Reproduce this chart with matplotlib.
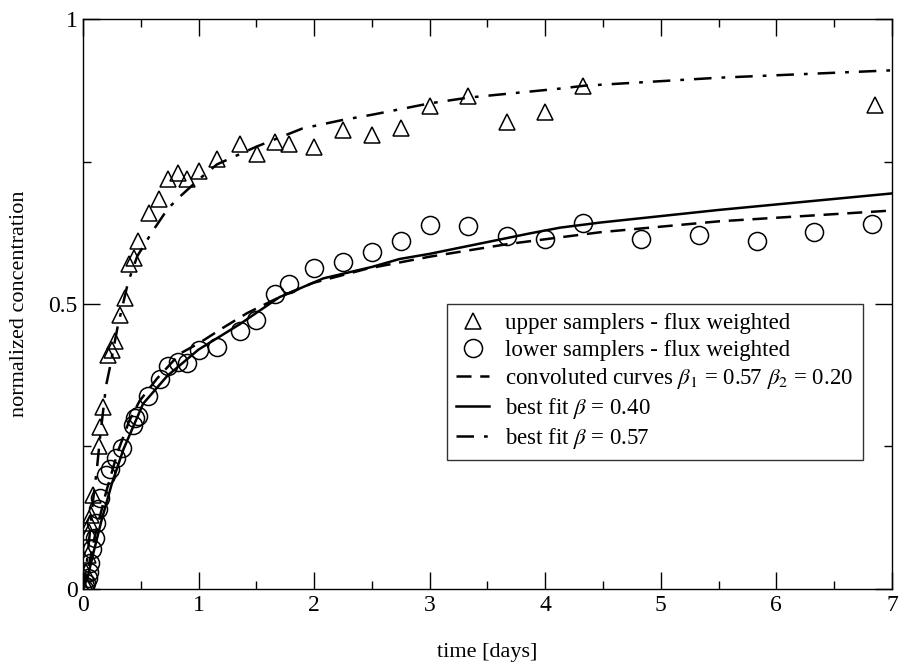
import matplotlib
matplotlib.use("Agg")
from matplotlib import pyplot as plt

plt.rcParams['font.family'] = ['Liberation Serif', 'DejaVu Serif']
plt.rcParams['mathtext.fontset'] = 'stix'

# upper samplers, flux weighted
upper_t = [0.01, 0.02, 0.03, 0.04, 0.05, 0.06, 0.07, 0.09, 0.14, 0.15, 0.17,
           0.22, 0.25, 0.28, 0.32, 0.36, 0.40, 0.44, 0.48, 0.57, 0.66, 0.74,
           0.82, 0.90, 1.00, 1.16, 1.36, 1.51, 1.66, 1.78, 2.00, 2.25, 2.50,
           2.75, 3.00, 3.33, 3.67, 4.00, 4.33, 6.85]
upper_c = [0.00, 0.01, 0.03, 0.06, 0.10, 0.115, 0.13, 0.165, 0.25, 0.285, 0.32,
           0.41, 0.42, 0.435, 0.48, 0.51, 0.57, 0.58, 0.61, 0.66, 0.685, 0.72,
           0.73, 0.72, 0.733, 0.755, 0.781, 0.764, 0.785, 0.780, 0.776, 0.806,
           0.797, 0.808, 0.848, 0.865, 0.820, 0.836, 0.883, 0.850]

# lower samplers, flux weighted
lower_t = [0.01, 0.02, 0.03, 0.04, 0.05, 0.06, 0.08, 0.10, 0.11, 0.13, 0.15,
           0.20, 0.23, 0.29, 0.34, 0.43, 0.45, 0.48, 0.56, 0.67, 0.74, 0.82,
           0.90, 1.00, 1.16, 1.36, 1.50, 1.66, 1.78, 2.00, 2.25, 2.50, 2.75,
           3.00, 3.33, 3.67, 4.00, 4.33, 4.83, 5.33, 5.83, 6.33, 6.83]
lower_c = [0.00, 0.005, 0.01, 0.02, 0.03, 0.045, 0.07, 0.09, 0.115, 0.14, 0.16,
           0.20, 0.21, 0.23, 0.247, 0.287, 0.30, 0.303, 0.339, 0.369, 0.392,
           0.399, 0.397, 0.420, 0.425, 0.453, 0.472, 0.517, 0.535, 0.563, 0.573,
           0.591, 0.610, 0.638, 0.636, 0.620, 0.614, 0.642, 0.614, 0.621, 0.610,
           0.626, 0.640]

# convoluted curves, beta1 = 0.57, beta2 = 0.20
conv_t = [0.0, 0.05, 0.10, 0.20, 0.30, 0.40, 0.49, 0.64, 0.84, 1.01, 1.21,
          1.42, 1.70, 1.99, 2.46, 3.00, 3.67, 4.13, 4.48, 5.50, 7.00]
conv_c = [0.0, 0.04, 0.09, 0.17, 0.24, 0.295, 0.33, 0.369, 0.413, 0.432, 0.458,
          0.484, 0.512, 0.537, 0.562, 0.583, 0.605, 0.617, 0.626, 0.645, 0.664]

# best fit, beta = 0.40
fit40_t = [0.0, 0.04, 0.08, 0.16, 0.25, 0.35, 0.52, 0.73, 1.00, 1.36, 1.70,
           2.08, 2.50, 2.74, 3.00, 3.87, 4.13, 4.48, 5.50, 7.00]
fit40_c = [0.0, 0.02, 0.055, 0.12, 0.185, 0.245, 0.325, 0.374, 0.420, 0.465,
           0.512, 0.545, 0.565, 0.579, 0.588, 0.624, 0.634, 0.643, 0.665, 0.694]

# best fit, beta = 0.57
fit57_t = [0.0, 0.03, 0.06, 0.09, 0.12, 0.15, 0.20, 0.23, 0.30, 0.39, 0.47,
           0.60, 0.73, 0.82, 1.01, 1.16, 1.50, 1.90, 2.25, 2.50, 3.00, 3.33,
           4.13, 4.34, 5.50, 7.00]
fit57_c = [0.0, 0.04, 0.10, 0.16, 0.21, 0.27, 0.357, 0.386, 0.46, 0.538, 0.584,
           0.627, 0.666, 0.685, 0.72, 0.745, 0.776, 0.808, 0.823, 0.832, 0.852,
           0.862, 0.878, 0.883, 0.897, 0.910]

fig = plt.figure(figsize=(9, 6.65), dpi=100)
ax = fig.add_axes([0.0922, 0.1143, 0.8988, 0.8571])

ax.plot(upper_t, upper_c, linestyle='none', marker='^', markersize=12,
        markerfacecolor='none', markeredgecolor='black', markeredgewidth=1.1,
        label='upper samplers - flux weighted')
ax.plot(lower_t, lower_c, linestyle='none', marker='o', markersize=13,
        markerfacecolor='none', markeredgecolor='black', markeredgewidth=1.1,
        label='lower samplers - flux weighted')
ax.plot(conv_t, conv_c, color='black', linewidth=1.8, dashes=(6, 3.5),
        label=r'convoluted curves $\beta_1$ = 0.57 $\beta_2$ = 0.20')
ax.plot(fit40_t, fit40_c, color='black', linewidth=1.8,
        label=r'best fit $\beta$ = 0.40')
ax.plot(fit57_t, fit57_c, color='black', linewidth=1.8, dashes=(7, 4, 1.5, 4),
        label=r'best fit $\beta$ = 0.57')

ax.set_xlim(0, 7)
ax.set_ylim(0, 1)
ax.set_xticks(range(8))
ax.set_xticks([0.5 + i for i in range(7)], minor=True)
ax.set_yticks([0, 0.5, 1])
ax.set_yticklabels(['0', '0.5', '1'])
ax.set_yticks([0.25, 0.75], minor=True)
ax.tick_params(which='both', direction='in', top=True, right=True,
               labelsize=17, width=1)
ax.tick_params(which='major', length=12, pad=4)
ax.tick_params(which='minor', length=6)
for s in ax.spines.values():
    s.set_linewidth(1)

ax.set_xlabel('time [days]', fontsize=16, labelpad=20)
ax.set_ylabel('normalized concentration', fontsize=16, labelpad=14)

leg = ax.legend(loc='upper left', bbox_to_anchor=(0.45, 0.4995), fontsize=16.5,
                frameon=True, fancybox=False, edgecolor='black',
                handlelength=1.45, handletextpad=0.7, labelspacing=0.22,
                borderpad=0.4, borderaxespad=0)
leg.get_frame().set_linewidth(1)

fig.savefig('out.png', dpi=100)
